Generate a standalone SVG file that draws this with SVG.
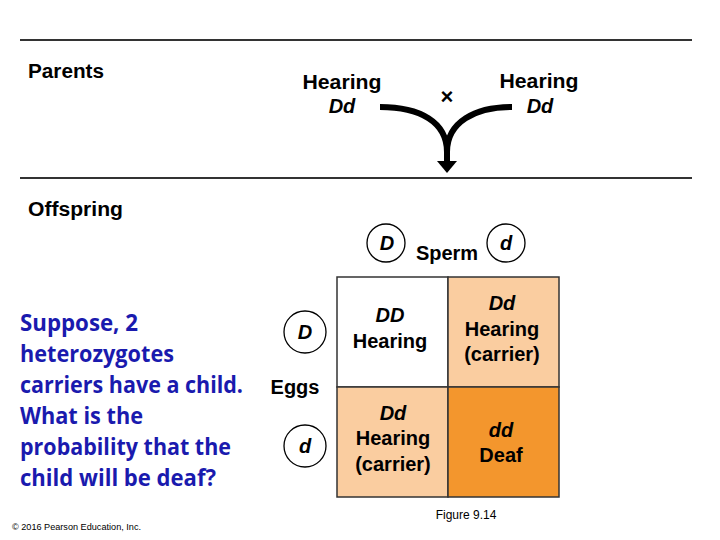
<svg xmlns="http://www.w3.org/2000/svg" width="720" height="540" viewBox="0 0 720 540">
<defs>
<style>
.lbl{font-family:"Liberation Sans",Arial,sans-serif;font-size:20px;font-weight:bold;fill:#000;}
.c{text-anchor:middle;}
.it{font-style:italic;}
.circ{fill:#fff;stroke:#000;stroke-width:1.3;}
.cell{stroke:#333;stroke-width:1.5;}
.q{font-family:"Open Sans","Noto Sans",sans-serif;font-size:24px;font-weight:bold;fill:#1A1AAE;}
.rule{stroke:#333;stroke-width:2;}
.arr{fill:none;stroke:#000;stroke-width:6;}
</style>
</defs>
<rect width="720" height="540" fill="#fff"/>
<line class="rule" x1="20" y1="40" x2="692" y2="40"/>
<line class="rule" x1="20" y1="178" x2="692" y2="178"/>
<text class="lbl" x="28" y="78" textLength="76" lengthAdjust="spacingAndGlyphs">Parents</text>
<text class="lbl" x="28" y="216" textLength="95" lengthAdjust="spacingAndGlyphs">Offspring</text>

<g id="parent1">
<text class="lbl c" x="342" y="89" textLength="79" lengthAdjust="spacingAndGlyphs">Hearing</text>
<text class="lbl c it" x="342" y="113">Dd</text>
</g>
<g id="parent2">
<text class="lbl c" x="539" y="88" textLength="79" lengthAdjust="spacingAndGlyphs">Hearing</text>
<text class="lbl c it" x="540" y="113">Dd</text>
</g>
<g id="cross">
<text x="447" y="104" text-anchor="middle" font-family="Liberation Sans,Arial,sans-serif" font-size="22" font-weight="bold">×</text>
</g>
<g id="connectors">
<path class="arr" d="M380,107 C420,107 447,122 447,152 L447,163"/>
<path class="arr" d="M512,107 C475,107 447,122 447,152"/>
<polygon points="437,161 457,161 447,173" fill="#000"/>
</g>

<g id="sperm">
<circle class="circ" cx="386" cy="243" r="19"/>
<text class="lbl c it" x="387" y="250" font-size="18">D</text>
<text class="lbl c" x="447" y="260" font-size="19">Sperm</text>
<circle class="circ" cx="506" cy="243" r="19"/>
<text class="lbl c it" x="506" y="250" font-size="18">d</text>
</g>

<g id="eggs">
<circle class="circ" cx="305" cy="332" r="21"/>
<text class="lbl c it" x="305" y="339" font-size="18">D</text>
<text class="lbl c" x="295" y="394" font-size="19">Eggs</text>
<circle class="circ" cx="305" cy="446" r="21"/>
<text class="lbl c it" x="305" y="453" font-size="18">d</text>
</g>

<g id="cell-DD">
<rect class="cell" x="337" y="277" width="111" height="110" fill="#fff"/>
<text class="lbl c it" x="390" y="322" font-size="19">DD</text>
<text class="lbl c" x="390" y="348" font-size="19">Hearing</text>
</g>
<g id="cell-Dd1">
<rect class="cell" x="448" y="277" width="111" height="110" fill="#FACDA0"/>
<text class="lbl c it" x="502" y="310" font-size="19">Dd</text>
<text class="lbl c" x="502" y="336" font-size="19">Hearing</text>
<text class="lbl c" x="502" y="361" font-size="19">(carrier)</text>
</g>
<g id="cell-Dd2">
<rect class="cell" x="337" y="387" width="111" height="110" fill="#FACDA0"/>
<text class="lbl c it" x="393" y="420" font-size="19">Dd</text>
<text class="lbl c" x="393" y="445" font-size="19">Hearing</text>
<text class="lbl c" x="393" y="471" font-size="19">(carrier)</text>
</g>
<g id="cell-dd">
<rect class="cell" x="448" y="387" width="111" height="110" fill="#F3962D"/>
<text class="lbl c it" x="501" y="437" font-size="19">dd</text>
<text class="lbl c" x="501" y="462" font-size="19">Deaf</text>
</g>

<g id="question">
<text class="q" x="20" y="331" textLength="118" lengthAdjust="spacingAndGlyphs">Suppose, 2</text>
<text class="q" x="20" y="362" textLength="154" lengthAdjust="spacingAndGlyphs">heterozygotes</text>
<text class="q" x="20" y="393" textLength="223" lengthAdjust="spacingAndGlyphs">carriers have a child.</text>
<text class="q" x="20" y="424" textLength="123" lengthAdjust="spacingAndGlyphs">What is the</text>
<text class="q" x="20" y="455" textLength="211" lengthAdjust="spacingAndGlyphs">probability that the</text>
<text class="q" x="20" y="486" textLength="196" lengthAdjust="spacingAndGlyphs">child will be deaf?</text>
</g>

<text x="466" y="519" text-anchor="middle" font-family="Liberation Sans,Arial,sans-serif" font-size="12">Figure 9.14</text>
<text x="12" y="530" font-family="Liberation Sans,Arial,sans-serif" font-size="9" textLength="129" lengthAdjust="spacingAndGlyphs">© 2016 Pearson Education, Inc.</text>
</svg>
